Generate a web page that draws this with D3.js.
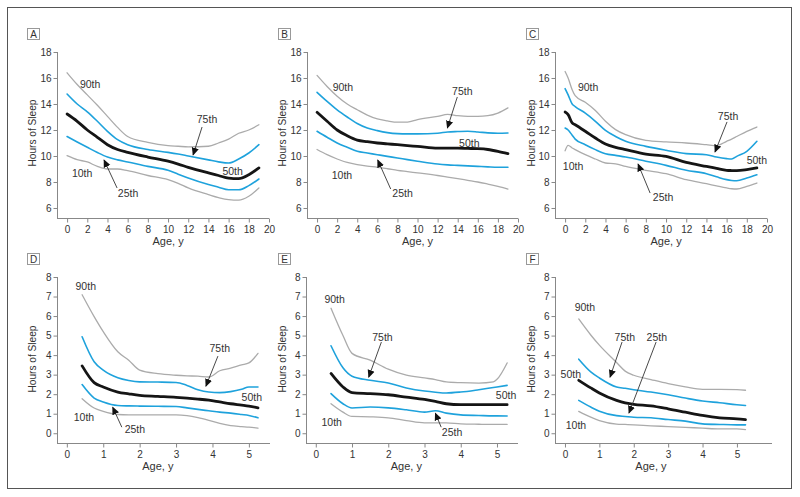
<!DOCTYPE html>
<html><head><meta charset="utf-8">
<script src="https://cdn.jsdelivr.net/npm/d3@7"></script>
<style>
body{margin:0;background:#fff;}
text{font-family:"Liberation Sans",Arial,sans-serif;fill:#333;}
</style></head><body>
<svg id="c" width="800" height="497"></svg>
<script>
// ---------- DATA ----------
const panelNames = ["A","B","C","D","E","F"];
const percentileNames = ["90th","75th","50th","25th","10th"];
const xTicksTop = [0,2,4,6,8,10,12,14,16,18,20];
const yTicksTop = [6,8,10,12,14,16,18];
const xTicksBottom = [0,1,2,3,4,5];
const yTicksBottom = [0,1,2,3,4,5,6,7,8];
const xLabel = "Age, y";
const yLabel = "Hours of Sleep";

const agesA = [0,1,2,3,4,5,6,8,10,11,12,14,15,16,17,18,19];
const p90A = [16.4,15.5,14.7,13.9,13.05,12.2,11.5,11.05,10.8,10.75,10.7,10.75,11.0,11.3,11.75,12.0,12.4];
const p75A = [14.77,14.0,13.4,12.67,11.9,11.26,10.87,10.5,10.28,10.15,10.0,9.7,9.55,9.46,9.77,10.23,10.87];
const p50A = [13.23,12.67,12.0,11.44,10.87,10.5,10.28,9.92,9.6,9.38,9.13,8.7,8.5,8.3,8.26,8.56,9.08];
const p25A = [11.5,11.08,10.67,10.27,9.92,9.7,9.54,9.2,8.9,8.6,8.3,7.8,7.6,7.4,7.4,7.72,8.23];
const p10A = [10.03,9.72,9.54,9.2,9.0,9.0,8.87,8.5,8.18,7.9,7.54,7.03,6.8,6.64,6.6,6.9,7.54];

const agesB = [0,1,2,3,4,5,6,7,8,9,10,12,13,14,15,16,17,18,19];
const p90B = [16.2,15.35,14.6,14.0,13.56,13.15,12.85,12.7,12.6,12.6,12.8,13.05,13.2,13.1,13.05,13.05,13.1,13.3,13.7];
const p75B = [14.9,14.2,13.55,13.0,12.5,12.15,11.95,11.8,11.72,11.7,11.7,11.75,11.85,11.88,11.9,11.85,11.78,11.75,11.77];
const p50B = [13.36,12.67,12.0,11.56,11.22,11.1,11.0,10.93,10.87,10.8,10.74,10.6,10.6,10.6,10.58,10.56,10.5,10.36,10.18];
const p25B = [11.9,11.44,11.0,10.67,10.36,10.23,10.1,9.97,9.85,9.72,9.6,9.38,9.32,9.28,9.24,9.2,9.16,9.13,9.13];
const p10B = [10.5,10.1,9.77,9.5,9.33,9.22,9.13,9.02,8.9,8.8,8.7,8.5,8.38,8.26,8.13,8.0,7.84,7.67,7.46];

const agesC = [0,0.3,0.7,1,2,3,4,5,6,8,10,12,14,15,16,16.5,17,18,19];
const p90C = [16.5,16.0,15.1,14.64,14.13,13.5,12.67,12.03,11.64,11.2,11.08,11.0,10.87,10.8,11.13,11.3,11.5,11.9,12.23];
const p75C = [15.18,14.7,14.0,13.8,13.3,12.67,11.97,11.5,11.13,10.74,10.44,10.18,10.1,9.92,9.8,9.77,9.97,10.36,11.13];
const p50C = [13.38,13.18,12.54,12.4,11.9,11.38,10.92,10.67,10.49,10.15,9.97,9.51,9.2,9.05,8.9,8.88,8.87,8.95,9.08];
const p25C = [12.15,12.0,11.6,11.3,10.87,10.49,10.18,10.05,9.92,9.6,9.28,8.9,8.64,8.4,8.18,8.12,8.1,8.31,8.56];
const p10C = [10.4,10.82,10.62,10.49,10.1,9.77,9.46,9.4,9.2,8.9,8.64,8.18,7.87,7.7,7.54,7.48,7.46,7.67,7.92];

const agesD = [0.42,0.75,1,1.4,1.7,2,2.5,3,3.3,3.6,3.9,4.2,4.5,4.8,5,5.25];
const p90D = [7.09,5.97,5.2,4.17,3.74,3.23,3.05,2.97,2.94,2.92,2.88,3.2,3.33,3.5,3.6,4.09];
const p75D = [4.94,3.66,3.23,2.84,2.7,2.63,2.62,2.6,2.45,2.23,2.11,2.08,2.13,2.25,2.37,2.37];
const p50D = [3.45,2.59,2.37,2.11,2.02,1.94,1.89,1.84,1.8,1.75,1.69,1.6,1.51,1.44,1.39,1.30];
const p25D = [2.49,1.8,1.6,1.42,1.4,1.39,1.38,1.37,1.3,1.22,1.15,1.08,1.03,0.96,0.91,0.79];
const p10D = [1.77,1.29,1.12,0.96,0.94,0.94,0.94,0.94,0.9,0.8,0.66,0.5,0.39,0.34,0.31,0.26];

const agesE = [0.42,0.75,1,1.5,2,2.5,3,3.3,3.6,4,4.5,4.9,5,5.28];
const p90E = [6.4,5.0,4.09,3.74,3.28,2.97,2.83,2.75,2.63,2.59,2.57,2.63,2.76,3.6];
const p75E = [4.48,3.35,2.92,2.71,2.57,2.32,2.16,2.1,2.06,2.11,2.23,2.34,2.37,2.45];
const p50E = [3.06,2.37,2.08,2.03,1.97,1.85,1.73,1.63,1.51,1.46,1.46,1.46,1.46,1.46];
const p25E = [2.03,1.51,1.29,1.34,1.3,1.2,1.08,1.15,1.03,0.94,0.91,0.89,0.89,0.88];
const p10E = [1.51,1.08,0.86,0.84,0.79,0.65,0.53,0.53,0.53,0.48,0.46,0.45,0.45,0.45];

const agesF = [0.4,0.75,1,1.5,1.75,2,2.5,3,3.5,4,4.5,5,5.25];
const p90F = [5.85,5.03,4.51,3.62,3.18,2.97,2.75,2.54,2.37,2.25,2.25,2.23,2.2];
const p75F = [3.79,3.14,2.83,2.37,2.3,2.23,2.11,1.97,1.8,1.65,1.56,1.46,1.42];
const p50F = [2.71,2.32,2.06,1.68,1.55,1.48,1.4,1.25,1.08,0.91,0.79,0.74,0.7];
const p25F = [1.68,1.34,1.13,0.9,0.86,0.82,0.79,0.7,0.62,0.48,0.45,0.43,0.43];
const p10F = [1.12,0.82,0.65,0.47,0.45,0.43,0.38,0.34,0.3,0.26,0.22,0.22,0.19];

// ---------- LAYOUT ----------
const svg = d3.select("#c");
const COL = {gray:"#ababab", cyan:"#1ea2dc", black:"#151515"};
const seriesStyle = [
  {color:COL.gray, w:1.3},
  {color:COL.cyan, w:1.6},
  {color:COL.black, w:2.8},
  {color:COL.cyan, w:1.6},
  {color:COL.gray, w:1.3}
];

svg.append("rect").attr("x",7.5).attr("y",7.5).attr("width",784).attr("height",481)
  .attr("fill","none").attr("stroke","#555").attr("stroke-width",1);

svg.append("defs").append("marker").attr("id","arr")
  .attr("viewBox","0 0 10 10").attr("refX",9).attr("refY",5)
  .attr("markerWidth",8).attr("markerHeight",8).attr("markerUnits","userSpaceOnUse")
  .attr("orient","auto")
  .append("path").attr("d","M0,0.5 L10,5 L0,9.5 Z").attr("fill","#111");

const rowTop = {y0:218, y1:52, yDom:[5.23,18], xTicks:xTicksTop, yTicks:yTicksTop, labelY:133, axLabelY:241, boxY:28};
const rowBot = {y0:443, y1:277, yDom:[-0.5,8], xTicks:xTicksBottom, yTicks:yTicksBottom, labelY:359, axLabelY:466, boxY:253};

const panels = [
  {row:rowTop, ax:57, xDom:[-1,20], w:212, ages:agesA, s:[p90A,p75A,p50A,p25A,p10A], boxX:27, ylab:32,
   labels:[["90th",2.28,15.54],["75th",13.86,12.85],["50th",16.4,8.85],["10th",1.49,8.69],["25th",6.04,7.15]],
   arrows:[[13.37,12.23,12.48,10.08],[4.95,7.54,3.66,9.69]]},
  {row:rowTop, ax:307, xDom:[-1,20], w:211, ages:agesB, s:[p90B,p75B,p50B,p25B,p10B], boxX:278, ylab:282,
   labels:[["90th",2.57,15.31],["75th",14.46,15.0],["50th",15.15,11.0],["10th",2.48,8.54],["25th",8.51,7.15]],
   arrows:[[13.96,14.54,12.97,12.15],[7.33,7.46,6.04,9.69]]},
  {row:rowTop, ax:555, xDom:[-1,20], w:212, ages:agesC, s:[p90C,p75C,p50C,p25C,p10C], boxX:526, ylab:531,
   labels:[["90th",2.28,15.31],["75th",16.14,13.08],["50th",19.0,9.69],["10th",0.79,9.23],["25th",9.7,6.85]],
   arrows:[[16.04,12.62,14.85,10.31],[8.42,7.15,7.23,9.38]]},
  {row:rowBot, ax:57, xDom:[-0.27,5.58], w:213, ages:agesD, s:[p90D,p75D,p50D,p25D,p10D], boxX:27, ylab:32,
   labels:[["90th",0.52,7.54],["75th",4.2,4.36],["50th",5.08,1.85],["10th",0.47,0.82],["25th",1.87,0.21]],
   arrows:[[4.15,3.95,3.82,2.41],[1.51,0.31,1.26,1.33]]},
  {row:rowBot, ax:306, xDom:[-0.27,5.58], w:212, ages:agesE, s:[p90E,p75E,p50E,p25E,p10E], boxX:278, ylab:282,
   labels:[["90th",0.52,6.87],["75th",1.84,4.92],["50th",5.25,1.95],["10th",0.44,0.56],["25th",3.76,0.05]],
   arrows:[[1.81,4.67,1.46,2.87],[3.46,0.31,3.30,1.03]]},
  {row:rowBot, ax:555, xDom:[-0.29,6.02], w:217, ages:agesF, s:[p90F,p75F,p50F,p25F,p10F], boxX:526, ylab:531,
   labels:[["90th",0.58,6.46],["75th",1.74,4.92],["25th",2.67,4.92],["50th",0.17,3.03],["10th",0.32,0.41]],
   arrows:[[1.66,4.67,1.31,2.87],[2.65,4.67,1.86,1.03]]}
];

const FONT = '"Liberation Sans",Arial,sans-serif';

panels.forEach((p,i)=>{
  const r = p.row;
  const x = d3.scaleLinear().domain(p.xDom).range([p.ax, p.ax+p.w]);
  const y = d3.scaleLinear().domain(r.yDom).range([r.y0, r.y1]);
  const g = svg.append("g");

  // panel letter box
  g.append("rect").attr("x",p.boxX+0.5).attr("y",r.boxY+0.5).attr("width",12).attr("height",11)
    .attr("fill","#fff").attr("stroke","#999").attr("stroke-width",1);
  g.append("text").attr("x",p.boxX+6.5).attr("y",r.boxY+10).attr("text-anchor","middle")
    .attr("font-size",10).text(panelNames[i]);

  // axes
  const axC = "#888";
  const xa = g.append("g").attr("transform",`translate(0,${r.y0+0.5})`)
    .call(d3.axisBottom(x).tickValues(r.xTicks).tickSize(4).tickSizeOuter(0).tickFormat(d3.format("d")));
  const ya = g.append("g").attr("transform",`translate(${p.ax+0.5},0)`)
    .call(d3.axisLeft(y).tickValues(r.yTicks).tickSize(4).tickSizeOuter(0).tickFormat(d3.format("d")));
  [xa,ya].forEach(a=>{
    a.attr("font-family",FONT);
    a.select(".domain").attr("stroke",axC);
    a.selectAll(".tick line").attr("stroke",axC);
    a.selectAll(".tick text").attr("font-size",10).attr("fill","#444");
  });
  xa.selectAll(".tick text").attr("y",7);
  ya.selectAll(".tick text").attr("x",-6);
  ya.select(".domain").attr("d",`M0,${r.y1}V${r.y0+0.5}`);
  xa.select(".domain").attr("d",`M${p.ax},0H${p.ax+p.w}`);

  // axis titles
  const mid = i>=3 ? (x(0)+x(5))/2 : (x(0)+x(20))/2;
  g.append("text").attr("x", mid).attr("y",r.axLabelY+4)
    .attr("text-anchor","middle").attr("font-size",11).text(xLabel);
  g.append("text").attr("transform",`translate(${p.ylab+4},${r.labelY}) rotate(-90)`)
    .attr("text-anchor","middle").attr("font-size",11).attr("textLength",67).attr("lengthAdjust","spacingAndGlyphs").text(yLabel);

  // lines
  const line = d3.line().x(d=>x(d[0])).y(d=>y(d[1])).curve(d3.curveMonotoneX);
  p.s.forEach((vals,k)=>{
    const pts = p.ages.map((a,j)=>[a,vals[j]]);
    g.append("path").attr("d",line(pts)).attr("fill","none")
      .attr("stroke",seriesStyle[k].color).attr("stroke-width",seriesStyle[k].w)
      .attr("stroke-linejoin","round").attr("stroke-linecap","round");
  });

  // percentile labels
  p.labels.forEach(l=>{
    g.append("text").attr("x",x(l[1])).attr("y",y(l[2])).attr("dy","0.35em")
      .attr("text-anchor","middle").attr("font-size",10.5).text(l[0]);
  });
  p.arrows.forEach(a=>{
    g.append("line").attr("x1",x(a[0])).attr("y1",y(a[1])).attr("x2",x(a[2])).attr("y2",y(a[3]))
      .attr("stroke","#333").attr("stroke-width",0.9).attr("marker-end","url(#arr)");
  });
});
</script>
</body></html>
